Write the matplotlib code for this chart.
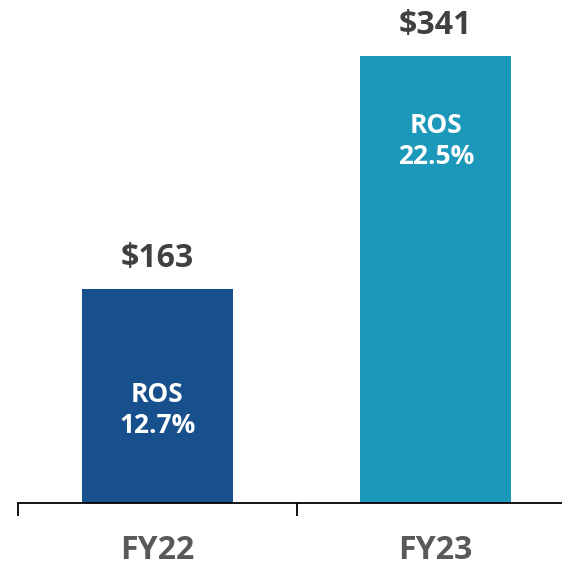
import matplotlib
matplotlib.use("Agg")
import matplotlib.pyplot as plt

categories = ["FY22", "FY23"]
values = [163, 341]
value_labels = ["$163", "$341"]
ros_labels = ["ROS\n12.7%", "ROS\n22.5%"]
ros_pos = [71, 276]
colors = ["#17508d", "#1c98bb"]

W, H = 562, 567
fig = plt.figure(figsize=(W / 100, H / 100), dpi=100)
ax = fig.add_axes([18 / W, (H - 503) / H, (575 - 18) / W, 503 / H])
ax.set_xlim(-0.5, 1.5)
ymax = 341 * 503 / 447
ax.set_ylim(0, ymax)

x = list(range(len(categories)))
ax.bar(x, values, width=0.543, color=colors, zorder=2)

fam = ["Open Sans", "DejaVu Sans"]
for i, (v, lab) in enumerate(zip(values, value_labels)):
    ax.annotate(lab, (i, v), xytext=(0, 10), textcoords="offset points",
                ha="center", va="bottom", fontsize=23, fontweight="bold",
                color="#404040", family=fam)

for i, ros in enumerate(ros_labels):
    ax.text(i, ros_pos[i], ros, ha="center", va="center", fontsize=19,
            fontweight="bold", color="white", family=fam, linespacing=1.2)

for s in ["top", "right", "left"]:
    ax.spines[s].set_visible(False)
ax.spines["bottom"].set_linewidth(1.3)
ax.spines["bottom"].set_color("black")
ax.set_yticks([])
ax.set_xticks([-0.5, 0.5, 1.5])
ax.set_xticklabels([])
ax.tick_params(axis="x", length=9, width=1.3, color="black", direction="out")
for i, c in enumerate(categories):
    ax.annotate(c, (i, 0), xytext=(0, -34), textcoords="offset points",
                ha="center", va="center", fontsize=23, fontweight="bold",
                color="#595959", family=fam, annotation_clip=False)

fig.savefig("out.png", dpi=100)
